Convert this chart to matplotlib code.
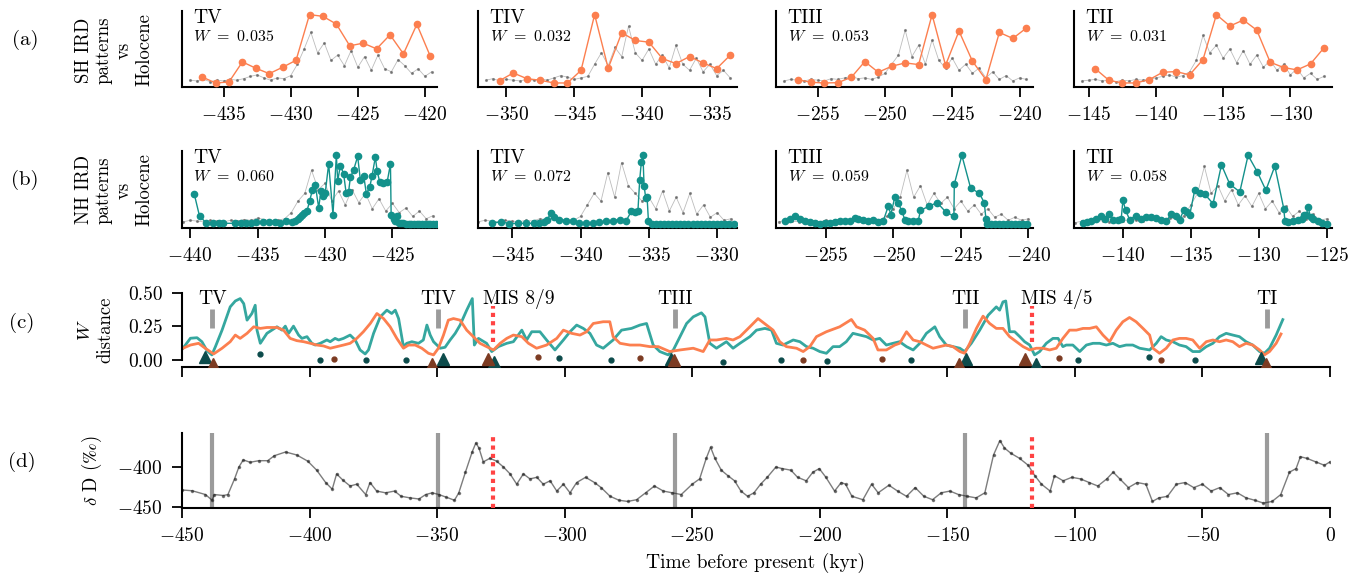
import numpy as np
import matplotlib
matplotlib.use('Agg')
import matplotlib.pyplot as plt
from matplotlib.ticker import MultipleLocator, FormatStrFormatter

plt.rcParams['font.family'] = ['cmr10', 'DejaVu Serif']
plt.rcParams['mathtext.fontset'] = 'cm'
plt.rcParams['axes.formatter.use_mathtext'] = True
plt.rcParams['font.size'] = 14
plt.rcParams['axes.linewidth'] = 1.5
for a in ['xtick', 'ytick']:
    plt.rcParams[a + '.major.width'] = 1.3
    plt.rcParams[a + '.major.size'] = 7.5
    plt.rcParams[a + '.major.pad'] = 6.5
    plt.rcParams[a + '.labelsize'] = 14

ORANGE = '#fc7f4f'
TEAL = '#13918b'
TEAL_LINE = '#35a79f'
DARK_TEAL = '#0c4b4b'
BROWN = '#7c3b22'
GREY = '#9b9b9b'
RED = '#ff4343'

# terminations
names = ['TV', 'TIV', 'TIII', 'TII']
sh_w = ['0.035', '0.032', '0.053', '0.031']
nh_w = ['0.060', '0.072', '0.059', '0.058']

# ---- (a) SH IRD patterns (1 kyr steps) and grey background record (0.5 kyr steps)
sh_start = [-436.6, -350.5, -256.5, -144.5]
sh_tv = [0.132, 0.053, 0.066, 0.330, 0.247, 0.176, 0.260, 0.352, 0.952, 0.930, 0.828, 0.542, 0.577, 0.502, 0.687, 0.436, 0.824, 0.405]
sh_tiv = [0.084, 0.185, 0.110, 0.088, 0.053, 0.053, 0.220, 0.952, 0.247, 0.714, 0.612, 0.590, 0.374, 0.308, 0.401, 0.317, 0.242, 0.419]
sh_tiii = [0.097, 0.062, 0.053, 0.057, 0.128, 0.335, 0.194, 0.273, 0.317, 0.295, 0.952, 0.286, 0.736, 0.339, 0.097, 0.718, 0.639, 0.775]
sh_tii = [0.238, 0.088, 0.053, 0.053, 0.097, 0.194, 0.203, 0.159, 0.361, 0.952, 0.802, 0.881, 0.749, 0.326, 0.256, 0.225, 0.304, 0.515]

sh_grey_start = [-437.5, -351.5, -257.5, -145.5]
sh_grey_tv = [0.09, 0.08, 0.10, 0.07, 0.09, 0.08, 0.10, 0.09, 0.11, 0.14, 0.16, 0.12, 0.09, 0.12, 0.11, 0.15, 0.30, 0.50, 0.72, 0.45,
              0.58, 0.35, 0.42, 0.28, 0.48, 0.26, 0.40, 0.22, 0.42, 0.24, 0.20, 0.36, 0.28, 0.18, 0.24, 0.14, 0.20]
sh_grey_tiv = [0.09, 0.11, 0.08, 0.10, 0.09, 0.08, 0.10, 0.09, 0.11, 0.09, 0.12, 0.15, 0.13, 0.10, 0.12, 0.14, 0.30, 0.45, 0.28, 0.52,
               0.40, 0.80, 0.45, 0.35, 0.50, 0.30, 0.42, 0.25, 0.55, 0.30, 0.22, 0.38, 0.20, 0.30, 0.15, 0.22, 0.12]
sh_grey_tiii = [0.08, 0.10, 0.09, 0.08, 0.10, 0.09, 0.08, 0.11, 0.10, 0.12, 0.14, 0.11, 0.12, 0.10, 0.13, 0.18, 0.30, 0.42, 0.75, 0.40,
                0.55, 0.30, 0.62, 0.35, 0.25, 0.38, 0.22, 0.30, 0.18, 0.25, 0.12, 0.20, 0.10, 0.15, 0.08, 0.12, 0.10]
sh_grey_tii = [0.08, 0.09, 0.10, 0.08, 0.09, 0.07, 0.09, 0.08, 0.10, 0.09, 0.10, 0.12, 0.14, 0.16, 0.13, 0.15, 0.20, 0.35, 0.68, 0.45,
               0.55, 0.38, 0.50, 0.32, 0.48, 0.30, 0.42, 0.26, 0.35, 0.22, 0.30, 0.16, 0.24, 0.12, 0.18, 0.10, 0.14]

# ---- (b) NH IRD patterns (irregular sampling)
nh_tv_t = [-439.70, -439.30, -438.80, -438.31, -437.86, -437.57, -436.65, -436.23, -435.84, -435.49, -435.10, -434.60, -434.16,
           -433.74, -433.32, -432.87, -432.43, -432.23, -432.01, -431.83, -431.68, -431.53, -431.34, -431.14, -430.94, -430.72,
           -430.47, -430.30, -430.15, -429.98, -429.73, -429.41, -429.16, -429.06, -428.86, -428.62, -428.44, -428.25, -428.12,
           -427.88, -427.58, -427.38, -427.13, -426.94, -426.69, -426.51, -426.27, -426.14, -425.94, -425.70, -425.40, -425.15,
           -425.10, -424.90, -424.78, -424.66, -424.53, -424.4, -424.2, -424.0, -423.8, -423.6, -423.4, -423.2, -423.0, -422.8,
           -422.6, -422.4, -422.2, -422.0, -421.8]
nh_tv_v = [0.447, 0.154, 0.066, 0.061, 0.061, 0.061, 0.061, 0.061, 0.061, 0.066, 0.075, 0.075, 0.079, 0.075, 0.066, 0.088, 0.079,
           0.096, 0.123, 0.140, 0.167, 0.197, 0.219, 0.351, 0.491, 0.561, 0.263, 0.482, 0.417, 0.461, 0.833, 0.175, 0.943, 0.614,
           0.811, 0.702, 0.461, 0.474, 0.658, 0.754, 0.930, 0.623, 0.680, 0.447, 0.526, 0.680, 0.921, 0.746, 0.592, 0.579, 0.592,
           0.833, 0.175, 0.123, 0.088, 0.154, 0.066, 0.07, 0.06, 0.055, 0.05, 0.055, 0.05, 0.05, 0.055, 0.05, 0.05, 0.05, 0.055,
           0.05, 0.05]
nh_tiv_t = [-346.47, -345.79, -345.20, -344.56, -344.02, -343.40, -343.04, -342.67, -342.42, -342.17, -341.93, -341.56, -341.07,
            -340.58, -340.09, -339.60, -339.11, -338.62, -338.12, -337.64, -337.14, -336.65, -336.28, -336.04, -335.80, -335.67,
            -335.55, -335.43, -335.35, -335.23, -335.13, -335.03, -334.8, -334.5, -334.2, -333.9, -333.6, -333.3, -333.0, -332.7,
            -332.4, -332.1, -331.8, -331.5, -331.2, -330.9, -330.6, -330.3, -330.0, -329.7, -329.4, -329.1, -328.8]
nh_tiv_v = [0.066, 0.079, 0.057, 0.061, 0.061, 0.061, 0.066, 0.079, 0.110, 0.197, 0.140, 0.110, 0.096, 0.088, 0.066, 0.061, 0.070,
            0.079, 0.088, 0.096, 0.110, 0.096, 0.219, 0.211, 0.219, 0.623, 0.855, 0.943, 0.548, 0.395, 0.408, 0.088, 0.055, 0.05,
            0.055, 0.05, 0.05, 0.055, 0.05, 0.05, 0.05, 0.055, 0.05, 0.05, 0.055, 0.05, 0.05, 0.05, 0.055, 0.05, 0.05, 0.05, 0.05]
nh_tiii_t = [-258.04, -257.67, -257.30, -256.93, -256.56, -256.19, -255.81, -255.44, -255.07, -254.70, -254.33, -253.96, -253.59,
             -253.22, -252.85, -252.60, -252.23, -251.86, -251.49, -251.13, -250.76, -250.38, -250.19, -249.89, -249.64, -249.39,
             -249.15, -248.90, -248.53, -248.16, -248.00, -247.35, -246.76, -246.11, -245.52, -245.49, -244.93, -244.28, -243.64,
             -243.27, -243.15, -243.05, -242.8, -242.5, -242.2, -241.9, -241.6, -241.3, -241.0, -240.7, -240.4, -240.1]
nh_tiii_v = [0.088, 0.123, 0.154, 0.123, 0.096, 0.079, 0.061, 0.057, 0.061, 0.066, 0.079, 0.088, 0.088, 0.096, 0.132, 0.123, 0.110,
             0.088, 0.110, 0.079, 0.088, 0.285, 0.175, 0.408, 0.329, 0.219, 0.110, 0.088, 0.088, 0.096, 0.228, 0.285, 0.329, 0.206,
             0.154, 0.570, 0.943, 0.518, 0.452, 0.329, 0.123, 0.053, 0.05, 0.055, 0.05, 0.05, 0.055, 0.05, 0.05, 0.05, 0.055, 0.05]
nh_tii_t = [-142.95, -142.65, -142.33, -141.96, -141.59, -141.35, -141.03, -140.74, -140.37, -140.12, -140.0, -139.80, -139.51,
            -139.02, -138.64, -138.27, -137.91, -137.54, -137.17, -136.80, -136.43, -136.11, -135.82, -135.52, -135.28, -135.08,
            -134.71, -134.34, -133.97, -133.36, -132.74, -132.13, -131.39, -130.78, -130.11, -129.47, -128.81, -128.15, -128.07,
            -127.83, -127.46, -127.09, -126.84, -126.67, -126.48, -126.36, -126.18, -125.99, -125.62, -125.37, -125.0]
nh_tii_v = [0.066, 0.079, 0.088, 0.123, 0.154, 0.123, 0.184, 0.110, 0.110, 0.123, 0.360, 0.232, 0.110, 0.162, 0.123, 0.149, 0.145,
            0.132, 0.110, 0.088, 0.184, 0.162, 0.110, 0.228, 0.211, 0.167, 0.491, 0.461, 0.439, 0.316, 0.820, 0.570, 0.469, 0.943,
            0.732, 0.491, 0.803, 0.250, 0.096, 0.079, 0.088, 0.110, 0.123, 0.175, 0.175, 0.272, 0.140, 0.123, 0.088, 0.066, 0.053]

nh_grey_start = [-440.5, -347.5, -258.5, -143.5]
nh_grey_tv = [0.08, 0.10, 0.09, 0.08, 0.10, 0.09, 0.08, 0.10, 0.09, 0.11, 0.10, 0.13, 0.11, 0.09, 0.10, 0.12, 0.20, 0.35, 0.45, 0.75,
              0.50, 0.58, 0.35, 0.48, 0.30, 0.50, 0.33, 0.45, 0.25, 0.38, 0.22, 0.32, 0.20, 0.26, 0.15, 0.22, 0.12, 0.16]
nh_grey_tiv = [0.08, 0.10, 0.09, 0.08, 0.10, 0.09, 0.08, 0.10, 0.09, 0.12, 0.11, 0.13, 0.10, 0.12, 0.10, 0.15, 0.30, 0.45, 0.35, 0.72,
               0.40, 0.85, 0.55, 0.45, 0.35, 0.40, 0.25, 0.48, 0.22, 0.40, 0.20, 0.45, 0.18, 0.30, 0.14, 0.20, 0.10, 0.12]
nh_grey_tiii = [0.08, 0.10, 0.09, 0.08, 0.10, 0.09, 0.08, 0.10, 0.09, 0.11, 0.10, 0.12, 0.13, 0.10, 0.12, 0.11, 0.15, 0.25, 0.40, 0.75,
                0.40, 0.55, 0.30, 0.45, 0.32, 0.40, 0.25, 0.35, 0.22, 0.30, 0.18, 0.25, 0.14, 0.18, 0.10, 0.14, 0.10, 0.12]
nh_grey_tii = [0.07, 0.09, 0.08, 0.10, 0.09, 0.08, 0.10, 0.09, 0.11, 0.10, 0.09, 0.12, 0.10, 0.11, 0.13, 0.12, 0.16, 0.30, 0.45, 0.80,
               0.45, 0.55, 0.35, 0.50, 0.30, 0.42, 0.28, 0.45, 0.25, 0.35, 0.20, 0.28, 0.15, 0.22, 0.12, 0.18, 0.10, 0.12]

sh_xlim = [(-438.1, -419.1), (-352.1, -333.0), (-258.1, -239.0), (-146.1, -126.9)]
nh_xlim = [(-440.6, -421.7), (-347.5, -328.55), (-258.7, -239.66), (-143.6, -124.6)]

# ---- (c) W distance through time
c_nh_t = [-449.6, -446.7, -444.1, -442.2, -440.2, -438.3, -436.9, -434.3, -431.1, -429.1, -427.2, -425.8, -424.5, -422.6, -421.3,
          -420.6, -419.3, -418.0, -416.7, -414.8, -412.8, -410.8, -409.5, -408.2, -406.3, -404.3, -403.0, -401.0, -399.1, -397.8,
          -395.8, -393.2, -391.9, -390.0, -388.6, -386.7, -384.1, -382.1, -380.2, -378.2, -376.9, -374.9, -372.3, -369.7, -367.8,
          -366.4, -365.1, -363.2, -361.9, -359.9, -357.3, -355.4, -354.0, -352.7, -351.4, -348.8, -346.9, -344.9, -342.9, -341.0,
          -338.4, -336.2, -335.4, -333.8, -330.6, -328.6, -326.0, -322.7, -320.1, -316.8, -314.9, -312.9, -309.7, -307.1, -303.8,
          -300.5, -297.9, -295.3, -292.7, -290.1, -287.5, -284.9, -281.0, -277.7, -273.8, -270.5, -267.9, -265.3, -262.7, -259.4,
          -257.4, -254.8, -252.2, -249.6, -246.4, -245.0, -243.1, -240.5, -236.6, -234.0, -231.3, -227.4, -224.8, -221.5, -218.9,
          -217.0, -214.4, -210.4, -207.8, -205.2, -202.6, -200.0, -197.4, -194.8, -192.2, -189.6, -187.0, -184.3, -181.7, -179.1,
          -176.5, -173.9, -171.3, -168.7, -166.0, -163.4, -160.8, -158.2, -154.9, -153.0, -150.4, -147.8, -145.1, -143.2, -140.6,
          -137.3, -134.0, -130.8, -129.5, -128.2, -127.1, -125.6, -123.6, -121.6, -119.7, -117.7, -115.8, -113.8, -111.2, -108.6,
          -106.6, -104.7, -103.4, -100.8, -98.1, -95.5, -92.9, -90.3, -87.7, -85.1, -82.5, -79.9, -77.3, -74.6, -70.7, -68.1,
          -66.2, -64.2, -61.6, -59.0, -56.4, -53.8, -51.1, -48.5, -45.9, -43.3, -40.7, -38.1, -35.5, -32.9, -30.3, -27.6, -25.7,
          -23.7, -21.1, -18.5]
c_nh_w = [0.085, 0.16, 0.164, 0.134, 0.067, 0.035, 0.097, 0.221, 0.396, 0.44, 0.458, 0.42, 0.296, 0.346, 0.408, 0.221, 0.122, 0.159,
          0.197, 0.221, 0.246, 0.221, 0.251, 0.197, 0.251, 0.184, 0.159, 0.172, 0.122, 0.109, 0.122, 0.147, 0.134, 0.159, 0.147,
          0.159, 0.184, 0.147, 0.072, 0.042, 0.072, 0.197, 0.321, 0.371, 0.346, 0.371, 0.308, 0.097, 0.122, 0.134, 0.122, 0.147,
          0.259, 0.184, 0.134, 0.085, 0.092, 0.147, 0.197, 0.259,
          0.371, 0.458, 0.109, 0.159, 0.122, 0.06, 0.097, 0.122, 0.134, 0.221, 0.147, 0.209, 0.209, 0.147, 0.072, 0.147, 0.209,
          0.259, 0.234, 0.197, 0.109, 0.085, 0.147, 0.221, 0.234, 0.259, 0.271, 0.109, 0.06, 0.035, 0.072, 0.172, 0.271, 0.321,
          0.351, 0.321, 0.122, 0.085, 0.134, 0.085, 0.122, 0.172, 0.221, 0.234, 0.221, 0.122, 0.109, 0.147, 0.134, 0.097, 0.085,
          0.06, 0.047, 0.097, 0.097, 0.134, 0.197, 0.184, 0.172, 0.147, 0.159, 0.109, 0.122, 0.134,
          0.097, 0.072, 0.122, 0.197, 0.246, 0.172, 0.109, 0.097, 0.085, 0.06, 0.122, 0.221, 0.333, 0.396, 0.371, 0.433, 0.44,
          0.209, 0.209, 0.172, 0.134, 0.109, 0.035, 0.06, 0.122, 0.159, 0.159, 0.097, 0.109, 0.109, 0.06, 0.109, 0.122, 0.122,
          0.109, 0.122, 0.097, 0.109, 0.109, 0.085, 0.072, 0.122, 0.172, 0.147, 0.134, 0.109, 0.097, 0.06, 0.06, 0.097, 0.122,
          0.172, 0.197, 0.184, 0.172, 0.134, 0.109, 0.06, 0.047, 0.085, 0.184, 0.30]

c_sh_t = [-449.6, -446.7, -443.5, -440.9, -437.6, -434.3, -431.1, -429.1, -427.2, -424.5, -421.9, -419.3, -416.7, -412.8, -410.2,
          -407.6, -405.0, -402.3, -399.7, -397.1, -394.5, -391.9, -389.3, -386.7, -384.1, -381.5, -378.9, -376.2, -373.6, -371.0,
          -368.4, -365.8, -363.2, -361.2, -358.6, -356.0, -353.4, -351.4, -349.5, -347.5, -345.6, -343.6, -341.0,
          -338.4, -335.8, -333.2, -330.6, -327.9, -325.3, -322.7, -320.1, -316.8, -314.2, -311.0, -307.1, -303.1, -300.5, -297.3,
          -294.0, -291.4, -288.8, -284.9, -282.3, -281.0, -278.3, -274.4, -270.5, -266.6, -263.3, -258.8, -254.8, -249.6, -245.7,
          -243.1, -240.5, -236.6, -234.0, -231.3, -227.4, -224.2, -220.9, -218.3, -215.7, -213.1, -209.1, -206.5, -203.9, -201.3,
          -197.4, -192.2, -187.6, -185.6, -182.4, -179.1, -177.2, -173.9, -170.6, -168.7,
          -166.0, -163.4, -160.8, -158.2, -155.6, -153.0, -150.4, -147.8, -145.1, -143.2, -141.2, -138.6, -136.0, -133.4, -130.8,
          -128.2, -125.6, -122.9, -120.3, -117.7, -115.1, -112.5, -109.9, -107.3, -104.7, -102.1, -99.4, -96.8, -94.2, -91.6,
          -89.0, -86.4, -83.8, -81.2, -78.6, -76.0, -73.3, -70.7, -69.4, -66.8, -64.2, -61.6, -59.0, -56.4, -53.8, -51.1, -48.5,
          -45.9, -43.3, -40.7, -38.1, -35.5, -32.9, -30.3, -27.6, -25.7, -23.7, -21.1, -19.2]
c_sh_w = [0.085, 0.109, 0.122, 0.085, 0.042, 0.085, 0.134, 0.184, 0.159, 0.197, 0.246, 0.234, 0.241, 0.241, 0.221, 0.159, 0.142,
          0.134, 0.122, 0.109, 0.102, 0.085, 0.097, 0.109, 0.122, 0.159, 0.209, 0.271, 0.346, 0.308, 0.246, 0.159, 0.085, 0.109,
          0.109, 0.085, 0.047, 0.035, 0.085, 0.184, 0.296, 0.308, 0.296,
          0.221, 0.172, 0.122, 0.097, 0.072, 0.122, 0.159, 0.184, 0.172, 0.122, 0.085, 0.109, 0.159, 0.221, 0.197, 0.184, 0.209,
          0.271, 0.284, 0.284, 0.172, 0.122, 0.109, 0.109, 0.097, 0.097, 0.06, 0.072, 0.085, 0.06, 0.147, 0.147, 0.159, 0.147,
          0.172, 0.246, 0.308, 0.259, 0.221, 0.134, 0.097, 0.085, 0.06, 0.097, 0.172, 0.209, 0.246, 0.301, 0.246, 0.221, 0.159,
          0.072, 0.072, 0.109, 0.122,
          0.209, 0.147, 0.134, 0.109, 0.085, 0.097, 0.109, 0.097, 0.06, 0.047, 0.122, 0.234, 0.326, 0.271, 0.234, 0.234, 0.172,
          0.134, 0.097, 0.072, 0.085, 0.085, 0.072, 0.085, 0.159, 0.221, 0.221, 0.234, 0.234, 0.246, 0.184, 0.134, 0.221, 0.284,
          0.316, 0.284, 0.234, 0.184, 0.085, 0.047, 0.085, 0.147, 0.159, 0.159, 0.147, 0.085, 0.134, 0.147, 0.134, 0.147, 0.134,
          0.097, 0.122, 0.109, 0.072, 0.035, 0.06, 0.122, 0.192]

# best matches (triangles) and other local minima (dots)
nh_match_t = [-440.9, -347.7, -327.7, -258.4, -142.7, -115.3, -27.2]
nh_match_w = [0.022, 0.007, -0.015, 0.007, 0.007, -0.03, 0.012]
sh_match_t = [-437.7, -352.0, -330.0, -257.2, -145.5, -119.6, -25.2]
sh_match_w = [-0.03, -0.03, 0.005, 0.0, -0.03, 0.007, -0.03]
nh_min_t = [-419.3, -396.1, -377.9, -362.1, -302.2, -282.0, -238.1, -215.3, -197.0, -164.1, -98.8, -71.0, -52.9]
nh_min_w = [0.04, 0.0, -0.007, 0.0, 0.015, 0.0, -0.02, 0.0, -0.01, 0.0, 0.0, 0.022, 0.0]
sh_min_t = [-390.6, -310.6, -270.5, -206.5, -175.5, -106.2, -66.2]
sh_min_w = [0.005, 0.022, 0.015, 0.0, 0.007, 0.01, 0.0]

term_t = [-438.1, -349.7, -256.8, -142.9, -24.6]
term_names = ['TV', 'TIV', 'TIII', 'TII', 'TI']
mis_t = [-327.9, -116.7]
mis_names = ['MIS 8/9', 'MIS 4/5']

# ---- (d) deuterium record
d_t = [-450, -446, -440.8, -438.2, -437.3, -433.8, -432, -429.4, -427.7, -426, -423.3, -419.9, -416.4, -413.8, -409.4, -405,
       -400.7, -397.2, -393.7, -391.1, -389.4, -386.8, -384.1, -381.5, -378, -376.3, -373.7, -370.2, -366.7, -364.1, -360.6,
       -357.1, -354.5, -351.9, -349.3, -346.7, -343.2, -341.5, -338.9, -336.2, -334.8, -333.6, -331.9, -329.3, -326.7, -324,
       -321.4, -318.8, -316.2, -313.6, -310.9, -308.4, -305.7, -303.1, -300.5, -297.9, -295.3, -291.8, -288.3, -285.7, -282.2,
       -278.7, -275.3, -271.8, -268.3, -264.8, -261.3, -257.8, -254.3, -250,
       -247.1, -244.5, -242.8, -241.1, -238.6, -236, -233.4, -230.9, -228.3, -225.8, -223.2, -220.6, -217.2, -214.7, -211.3,
       -208.7, -205.3, -202.7, -200.2, -197.6, -194.2, -191.6, -189.9, -187.4, -183.1, -179.7, -177.1, -172.9, -169.5, -166,
       -162.6, -159.2, -155.8, -152.4, -149, -145.6, -142.2, -138.7, -135.3, -131.9, -129.4, -127.6, -125.1, -121.7, -118.3,
       -115.7, -113.1, -109.7, -108, -104.6, -101.2, -97.8, -94.4, -91, -87.5, -85, -82.4, -79, -75.6, -72.2, -69.6, -67.1,
       -63.7, -60.2, -56.8, -53.4, -50, -46.6, -43.2, -39.8, -36.3, -32.9, -29.5, -26.1, -22.7, -19.3, -15.9, -13.3, -11.6,
       -9.1, -5.6, -2.2, 0]
d_dD = [-429, -430, -434.8, -442, -434.8, -436, -434.8, -415, -400, -391, -394, -392, -392, -385.7, -381, -384.8, -392.6, -404,
        -419.6, -428, -408.7, -417, -424, -421.7, -434.8, -419.6, -430.4, -432.6, -430.4, -437, -439, -440.4, -434.8, -432.6,
        -434.8, -437.8, -442, -432.6, -406.5, -380.4, -369.6, -376, -393.5, -389, -392.6, -400, -408.7, -421.7, -408.7, -415,
        -413, -421.7, -417.4, -430.4, -421.7, -432.6, -419.6, -413, -419.6, -426, -437, -442, -443.5, -441.3, -432.6, -424,
        -430.4, -432.6, -434.8, -421.7,
        -415, -389, -375, -389, -404, -411, -417.4, -430.4, -437, -432.6, -421.7, -413, -400, -402, -404, -413, -417.4, -406.5,
        -402, -413, -430.4, -419.6, -421.7, -437, -441.3, -421.7, -432.6, -423, -430.4, -437, -426, -437, -441.3, -432.6,
        -430.4, -434.8, -437, -439, -432.6, -384.8, -366.5, -376, -382.6, -389, -397.8, -411, -421.7, -430.4, -411, -417.4,
        -413, -415, -419.6, -424, -415, -406.5, -415, -426, -419.6, -421.7, -443.5, -439, -437, -421.7, -419.6, -426, -421.7,
        -430.4, -426, -434.8, -432.6, -439, -442, -445.6, -443.5, -434.8, -406.5, -402, -387, -389, -393.5, -397.8, -393.5]

W, H = 1364, 574
fig = plt.figure(figsize=(W / 100, H / 100), dpi=100)


def px_rect(x0, y0, x1, y1):
    return [x0 / W, 1 - y1 / H, (x1 - x0) / W, (y1 - y0) / H]


def small_panel(rect, xlim, gstart, gvals, t, v, color, name, wtxt):
    ax = fig.add_axes(rect)
    gt = gstart + 0.5 * np.arange(len(gvals))
    ax.plot(gt, gvals, color='0.35', lw=0.6, alpha=0.4, zorder=1)
    ax.plot(gt, gvals, ls='none', marker='.', ms=2.5, color='0.35', alpha=0.6, zorder=1)
    ax.plot(t, v, '-o', color=color, lw=1, ms=4.5, zorder=3)
    ax.set_xlim(*xlim)
    ax.set_ylim(0, 1)
    ax.set_yticks([])
    ax.xaxis.set_major_locator(MultipleLocator(5))
    ax.spines['top'].set_visible(False)
    ax.spines['right'].set_visible(False)
    ax.text(0.045, 0.84, name, transform=ax.transAxes, fontsize=14, va='baseline')
    ax.text(0.045, 0.61, r'$W$ $=$ ' + wtxt, transform=ax.transAxes, fontsize=11.5, va='baseline')
    return ax


cols = [(182, 437), (478, 737), (776, 1033), (1074, 1332)]
sh_series = [sh_tv, sh_tiv, sh_tiii, sh_tii]
sh_greys = [sh_grey_tv, sh_grey_tiv, sh_grey_tiii, sh_grey_tii]
nh_ts = [nh_tv_t, nh_tiv_t, nh_tiii_t, nh_tii_t]
nh_vs = [nh_tv_v, nh_tiv_v, nh_tiii_v, nh_tii_v]
nh_greys = [nh_grey_tv, nh_grey_tiv, nh_grey_tiii, nh_grey_tii]

for i in range(4):
    x0, x1 = cols[i]
    sh_t = sh_start[i] + np.arange(len(sh_series[i]))
    small_panel(px_rect(x0, 11, x1, 87), sh_xlim[i], sh_grey_start[i], sh_greys[i],
                sh_t, sh_series[i], ORANGE, names[i], sh_w[i])
    small_panel(px_rect(x0, 151, x1, 228), nh_xlim[i], nh_grey_start[i], nh_greys[i],
                nh_ts[i], nh_vs[i], TEAL, names[i], nh_w[i])

# (c) W distance
ax_c = fig.add_axes(px_rect(182, 293, 1330, 367))
ax_c.plot(c_nh_t, c_nh_w, color=TEAL_LINE, lw=2, zorder=2)
ax_c.plot(c_sh_t, c_sh_w, color=ORANGE, lw=2, zorder=2)
ax_c.plot(nh_min_t, nh_min_w, 'o', color=DARK_TEAL, ms=3.5, zorder=4)
ax_c.plot(sh_min_t, sh_min_w, 'o', color=BROWN, ms=3.5, zorder=4)
ax_c.plot(nh_match_t, nh_match_w, '^', color=DARK_TEAL, ms=8, zorder=5)
ax_c.plot(sh_match_t, sh_match_w, '^', color=BROWN, ms=8, zorder=5)
for tt, nm in zip(term_t, term_names):
    ax_c.plot([tt, tt], [0.235, 0.38], color=GREY, lw=3.5, solid_capstyle='butt', zorder=3)
    ax_c.text(tt, 0.42, nm, ha='center', va='baseline', fontsize=14)
for tt, nm in zip(mis_t, mis_names):
    ax_c.plot([tt, tt], [0.135, 0.40], color=RED, lw=3, ls=(0, (1, 1)), zorder=3)
    ax_c.text(tt - 4.3, 0.42, nm, ha='left', va='baseline', fontsize=14)
ax_c.set_xlim(-450, 0)
ax_c.set_ylim(-0.056, 0.5)
ax_c.set_yticks([0, 0.25, 0.5])
ax_c.yaxis.set_major_formatter(FormatStrFormatter('%.2f'))
ax_c.xaxis.set_major_locator(MultipleLocator(50))
ax_c.tick_params(axis='x', labelbottom=False)
ax_c.spines['left'].set_bounds(0, 0.5)
ax_c.spines['top'].set_visible(False)
ax_c.spines['right'].set_visible(False)

# (d) deuterium
ax_d = fig.add_axes(px_rect(182, 433, 1330, 508))
for tt in term_t:
    ax_d.axvline(tt, color=GREY, lw=3, zorder=1)
for tt in mis_t:
    ax_d.axvline(tt, ymin=0, ymax=0.95, color=RED, lw=3, ls=(0, (1, 1)), zorder=3)
ax_d.plot(d_t, d_dD, color='0.15', lw=1.0, alpha=0.6, zorder=2)
ax_d.plot(d_t, d_dD, ls='none', marker='.', ms=3, color='0.1', alpha=0.5, zorder=2)
ax_d.set_xlim(-450, 0)
ax_d.set_ylim(-451.8, -357)
ax_d.set_yticks([-400, -450])
ax_d.xaxis.set_major_locator(MultipleLocator(50))
ax_d.spines['top'].set_visible(False)
ax_d.spines['right'].set_visible(False)

# panel letters and row labels
for lab, (xp, yp) in zip(['(a)', '(b)', '(c)', '(d)'], [(25, 40), (25, 180), (22, 323), (22, 462)]):
    fig.text(xp / W, 1 - yp / H, lab, ha='center', va='center', fontsize=15)
fig.text(114 / W, 1 - 50 / H, 'SH IRD\npatterns\nvs\nHolocene', rotation=90, ha='center', va='center',
         ma='center', fontsize=13.5, linespacing=1.15)
fig.text(114 / W, 1 - 190 / H, 'NH IRD\npatterns\nvs\nHolocene', rotation=90, ha='center', va='center',
         ma='center', fontsize=13.5, linespacing=1.15)
fig.text(95 / W, 1 - 330 / H, '$W$\ndistance', rotation=90, ha='center', va='center', ma='center',
         fontsize=13.5, linespacing=1.15)
fig.text(92 / W, 1 - 471 / H, r'$\delta$ D ($\perthousand$)', rotation=90, ha='center', va='center', fontsize=13.5)
fig.text(756 / W, 1 - 563 / H, 'Time before present (kyr)', ha='center', va='center', fontsize=14)

fig.savefig('out.png', dpi=100)
